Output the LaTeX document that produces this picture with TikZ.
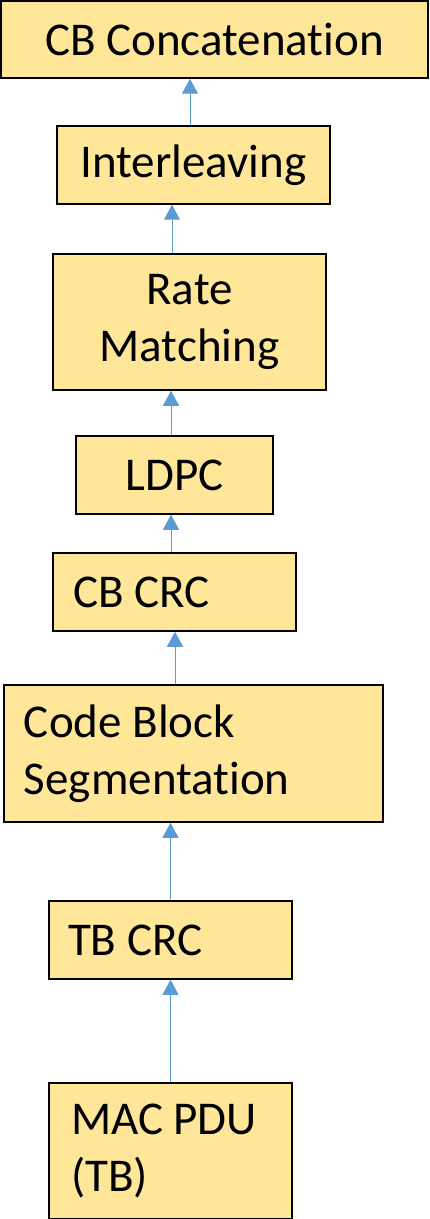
\documentclass[tikz,border=0pt]{standalone}
\usepackage{fontspec}
\setmainfont{Carlito}[Ligatures = NoCommon]
\usetikzlibrary{arrows.meta,positioning}
\definecolor{boxfill}{HTML}{FFE699}
\definecolor{flowblue}{HTML}{5B9BD5}

\begin{document}
\begin{tikzpicture}[x = 0.5pt, y = -0.5pt,
  every node/.style = {font = \fontsize{23.5}{28.5}\selectfont},
  blk/.style = {draw = black, line width = 0.75pt, fill = boxfill, inner sep = 0pt, align = center},
  blkleft/.style = {blk, align = flush left},
  flow/.style = {draw = flowblue, line width = 0.5pt, -{Triangle[width = 8pt, length = 7.5pt]}}]
\useasboundingbox (0, 0) rectangle (429, 1219);
%\draw [help lines, step = 50] (0, 0) grid (429, 1219);
\node [blk, minimum width = 213.5pt, minimum height = 38.5pt] (cbcat) at (214.5, 39.5) {CB Concatenation};
\node [blk, minimum width = 136.5pt, minimum height = 39pt] (inter) at (193.5, 165) {Interleaving};
\node [blk, minimum width = 136.5pt, minimum height = 68pt] (rate) at (189.5, 322) {Rate\\Matching};
\node [blk, minimum width = 98.5pt, minimum height = 39pt] (ldpc) at (174.5, 475) {LDPC};
\node [blkleft, text width = 101.5pt, inner xsep = 10pt, minimum height = 39pt] (cbcrc) at (174.5, 592) {CB CRC};
\node [blkleft, text width = 169.5pt, inner xsep = 10pt, minimum height = 68.5pt] (cbs) at (193.5, 753.5) {Code Block\\Segmentation};
\node [blkleft, text width = 102.5pt, inner xsep = 9.5pt, minimum height = 39pt] (tbcrc) at (170.5, 940) {TB CRC};
\node [blkleft, text width = 99.5pt, inner xsep = 11pt, minimum height = 68pt] (mac) at (170.5, 1151) {MAC PDU\\(TB)};
% processing chain, bottom to top
\draw [flow] ([xshift = -1.75pt]inter.north) -- ([xshift = -1.75pt]inter.north |- cbcat.south);
\draw [flow] ([xshift = -8.75pt]rate.north) -- ([xshift = -8.75pt]rate.north |- inter.south);
\draw [flow] ([xshift = -1.75pt]ldpc.north) -- ([xshift = -1.75pt]ldpc.north |- rate.south);
\draw [flow] ([xshift = -1.75pt]cbcrc.north) -- ([xshift = -1.75pt]cbcrc.north |- ldpc.south);
\draw [flow] ([xshift = -9.25pt]cbs.north) -- ([xshift = -9.25pt]cbs.north |- cbcrc.south);
\draw [flow] (tbcrc.north) -- (tbcrc.north |- cbs.south);
\draw [flow] (mac.north) -- (mac.north |- tbcrc.south);
\end{tikzpicture}
\end{document}
